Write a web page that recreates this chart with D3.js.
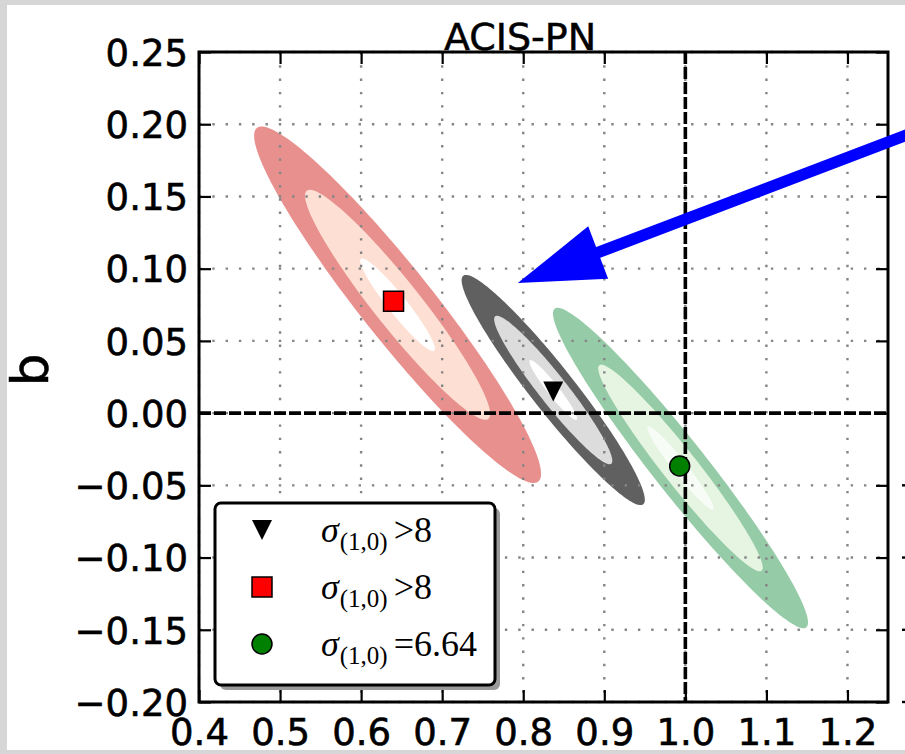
<!DOCTYPE html>
<html>
<head>
<meta charset="utf-8">
<script src="https://cdn.jsdelivr.net/npm/d3@7"></script>
<style>
  body { margin: 0; background: #d6d6d6; }
  svg { display: block; }
</style>
</head>
<body>
<div id="chart"></div>
<script>
// axis ticks
const xTicks = [0.4, 0.5, 0.6, 0.7, 0.8, 0.9, 1.0, 1.1, 1.2]
const yTicks = [-0.20, -0.15, -0.10, -0.05, 0.00, 0.05, 0.10, 0.15, 0.20, 0.25]

// confidence contours (grey = triangle, red = square, green = circle)
const sets = ['grey', 'red', 'green']
const centreA = [0.837, 0.645, 0.994]
const centreB = [0.016, 0.075, -0.038]
const spreadA = [0.1130, 0.1770, 0.1573]   // outer contour half-extent in a
const spreadB = [0.0797, 0.1234, 0.1109]   // outer contour half-extent in b
const corr = [-0.953, -0.948, -0.964]
const levels = [1, 0.645, 0.26]             // relative size of the 3 filled levels

// best fit points
const pointA = [0.837, 0.640, 0.993]
const pointB = [0.015, 0.0775, -0.0366]
const legendRel = ['>8', '>8', '=6.64']

// arrow annotation (from, to) in data coords
const arrowFrom = [1.35, 0.209]
const arrowTo = [0.7933, 0.09]

const fills = {
  grey: ['#606060', '#dcdcdc', '#ffffff'],
  red: ['#e8908e', '#fde0d3', '#ffffff'],
  green: ['#95cba6', '#e6f4e2', '#f8fcf6']
}
const markers = { grey: 'triangle', red: 'square', green: 'circle' }
const markerFill = { grey: '#000000', red: '#ff0000', green: '#008000' }

const margin = { top: 52, right: 17, bottom: 52, left: 199 },
  fullWidth = 905,
  fullHeight = 754,
  width = fullWidth - margin.left - margin.right,
  height = fullHeight - margin.top - margin.bottom

const root = d3.select('#chart')
  .append('svg')
    .attr('width', fullWidth)
    .attr('height', fullHeight)

// slide background + white figure
root.append('rect').attr('width', fullWidth).attr('height', fullHeight).attr('fill', '#d6d6d6')
root.append('rect').attr('x', 7).attr('y', 5).attr('width', fullWidth - 7).attr('height', 745).attr('fill', '#fff')

const svg = root.append('g')
  .attr('transform', `translate(${margin.left}, ${margin.top})`)

const x = d3.scaleLinear().domain([0.4, 1.25]).range([0, width])
const y = d3.scaleLinear().domain([-0.2, 0.25]).range([height, 0])

const clip = svg.append('clipPath').attr('id', 'plotclip')
clip.append('rect').attr('width', width).attr('height', height)

// filled contours
const angles = d3.range(0, 360, 2).map(d => d * Math.PI / 180)
const ellipse = d3.line().curve(d3.curveLinearClosed)
const plot = svg.append('g').attr('clip-path', 'url(#plotclip)')

sets.forEach((s, i) => {
  levels.forEach((k, j) => {
    const r = corr[i], q = Math.sqrt(1 - r * r)
    const pts = angles.map(t => [
      x(centreA[i] + k * spreadA[i] * Math.cos(t)),
      y(centreB[i] + k * spreadB[i] * (r * Math.cos(t) + q * Math.sin(t)))
    ])
    plot.append('path')
      .attr('d', ellipse(pts))
      .attr('fill', fills[s][j])
  })
})

// dotted grid
const grid = svg.append('g')
  .attr('stroke', '#858585')
  .attr('stroke-width', 2.4)
  .attr('stroke-dasharray', '2.4,10.9')
grid.selectAll('.gx').data(xTicks).enter().append('line')
  .attr('x1', d => x(d)).attr('x2', d => x(d))
  .attr('y1', 0).attr('y2', height)
grid.selectAll('.gy').data(yTicks).enter().append('line')
  .attr('y1', d => y(d)).attr('y2', d => y(d))
  .attr('x1', 0).attr('x2', width)

// zero lines
const zero = svg.append('g')
  .attr('stroke', '#000')
  .attr('stroke-width', 3.6)
  .attr('stroke-dasharray', '12,3')
zero.append('line').attr('x1', 0).attr('x2', width).attr('y1', y(0)).attr('y2', y(0))
zero.append('line').attr('x1', x(1)).attr('x2', x(1)).attr('y1', 0).attr('y2', height)

// axes with inward ticks
const tickFont = g => g
  .attr('font-family', 'DejaVu Sans, Bitstream Vera Sans, sans-serif')
  .attr('font-size', 37)
  .call(g => g.select('.domain').remove())
  .call(g => g.selectAll('.tick line').attr('stroke', '#000').attr('stroke-width', 2.2))

const heavy = g => g.selectAll('.tick text')
  .attr('fill', '#000').attr('stroke', '#000').attr('stroke-width', 0.6)

svg.append('g')
  .attr('transform', `translate(0, ${height})`)
  .call(d3.axisBottom(x).tickValues(xTicks).tickFormat(d3.format('.1f')).tickSize(-12).tickPadding(17))
  .call(tickFont)
  .call(heavy)

svg.append('g')
  .call(d3.axisLeft(y).tickValues(yTicks).tickFormat(d3.format('.2f')).tickSize(-12).tickPadding(11))
  .call(tickFont)
  .call(heavy)
  .call(g => g.selectAll('.tick text').attr('dy', '0.36em'))

svg.append('g')
  .call(d3.axisTop(x).tickValues(xTicks).tickFormat('').tickSize(-12))
  .call(tickFont)

svg.append('g')
  .attr('transform', `translate(${width}, 0)`)
  .call(d3.axisRight(y).tickValues(yTicks).tickFormat('').tickSize(-12))
  .call(tickFont)

// frame
svg.append('rect')
  .attr('width', width).attr('height', height)
  .attr('fill', 'none').attr('stroke', '#000').attr('stroke-width', 3)

// marker shapes
const markerPath = (type, size) => {
  if (type === 'triangle') {
    const h = size / 2
    return `M${-h},${-h}L${h},${-h}L0,${h}Z`
  }
  if (type === 'square') return d3.symbol(d3.symbolSquare, size * size)()
  return d3.symbol(d3.symbolCircle, Math.PI * size * size / 4)()
}

sets.forEach((s, i) => {
  svg.append('path')
    .attr('transform', `translate(${x(pointA[i])}, ${y(pointB[i])})`)
    .attr('d', markerPath(markers[s], 20))
    .attr('fill', markerFill[s])
    .attr('stroke', '#000')
    .attr('stroke-width', markers[s] === 'triangle' ? 0 : 1.5)
})

// legend
const lg = svg.append('g').attr('transform', `translate(${215 - margin.left}, ${503 - margin.top})`)
lg.append('rect')
  .attr('x', 5).attr('y', 5).attr('width', 280).attr('height', 182).attr('rx', 6)
  .attr('fill', '#9a9a9a')
lg.append('rect')
  .attr('width', 280).attr('height', 182).attr('rx', 6)
  .attr('fill', '#fff').attr('stroke', '#000').attr('stroke-width', 3)

sets.forEach((s, i) => {
  const row = lg.append('g').attr('transform', `translate(0, ${39 + i * 57})`)
  row.append('path')
    .attr('transform', `translate(47, -12)`)
    .attr('d', markerPath(markers[s], 20))
    .attr('fill', markerFill[s])
    .attr('stroke', '#000')
    .attr('stroke-width', markers[s] === 'triangle' ? 0 : 1.5)
  const t = row.append('text')
    .attr('x', 106)
    .attr('font-family', 'Liberation Serif, Times New Roman, serif')
    .attr('font-size', 36)
    .attr('fill', '#000')
  t.append('tspan').attr('font-style', 'italic').text('σ')
  t.append('tspan').attr('font-size', 25).attr('dy', 8).attr('dx', 1).text('(1,0)')
  t.append('tspan').attr('dy', -8).attr('dx', 6).text(legendRel[i])
})

// title and y label
svg.append('text')
  .attr('x', 520 - margin.left).attr('y', -2)
  .attr('text-anchor', 'middle')
  .attr('font-family', 'DejaVu Sans, sans-serif')
  .attr('font-size', 38)
  .attr('stroke', '#000').attr('stroke-width', 0.5)
  .text('ACIS-PN')

svg.append('text')
  .attr('transform', `translate(${48 - margin.left}, ${370 - margin.top}) rotate(-90)`)
  .attr('text-anchor', 'middle')
  .attr('font-family', 'DejaVu Sans, sans-serif')
  .attr('font-size', 52)
  .attr('stroke', '#000').attr('stroke-width', 0.5)
  .text('b')

// minus signs of the neighbouring panel's tick labels, cut by the right edge
svg.append('g')
  .attr('stroke', '#000').attr('stroke-width', 2.4)
  .selectAll('line').data(yTicks.filter(d => d < 0)).enter().append('line')
    .attr('x1', width + 14).attr('x2', width + 17)
    .attr('y1', d => y(d)).attr('y2', d => y(d))

// blue arrow
const p0 = [x(arrowFrom[0]), y(arrowFrom[1])]
const p1 = [x(arrowTo[0]), y(arrowTo[1])]
const len = Math.hypot(p0[0] - p1[0], p0[1] - p1[1])
const ux = (p0[0] - p1[0]) / len, uy = (p0[1] - p1[1]) / len
const headLen = 86, headHalf = 28
const base = [p1[0] + ux * headLen, p1[1] + uy * headLen]
svg.append('line')
  .attr('x1', p0[0]).attr('y1', p0[1])
  .attr('x2', base[0] - ux * 2).attr('y2', base[1] - uy * 2)
  .attr('stroke', '#0000ff').attr('stroke-width', 11.5)
svg.append('path')
  .attr('d', `M${p1[0]},${p1[1]}L${base[0] - uy * headHalf},${base[1] + ux * headHalf}L${base[0] + uy * headHalf},${base[1] - ux * headHalf}Z`)
  .attr('fill', '#0000ff')
</script>
</body>
</html>
